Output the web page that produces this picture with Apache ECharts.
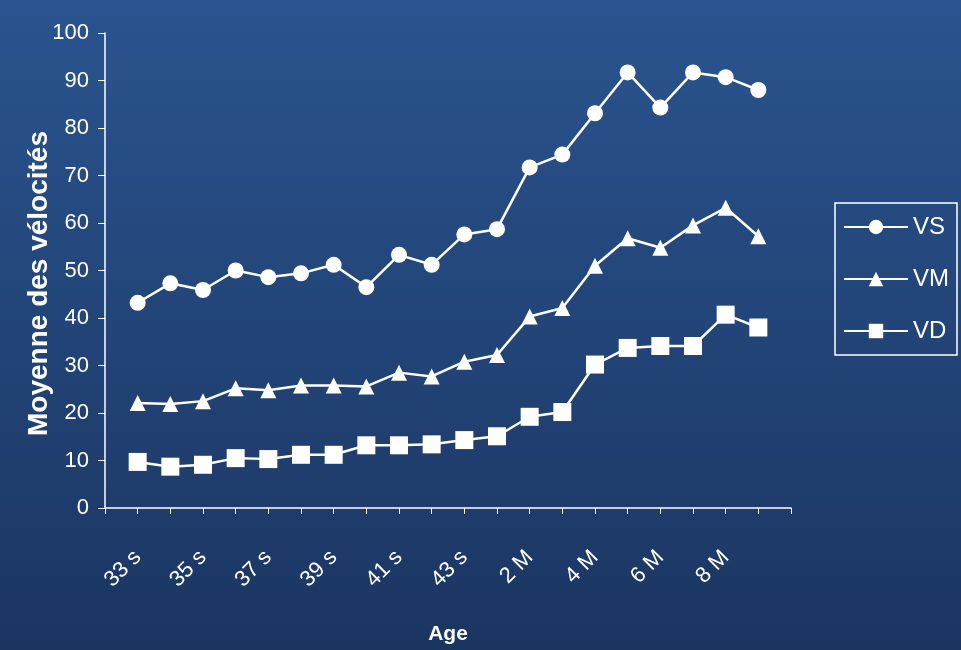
<!DOCTYPE html>
<html>
<head>
<meta charset="utf-8">
<script src="https://cdn.jsdelivr.net/npm/echarts@6/dist/echarts.min.js"></script>
<style>
  html, body { margin: 0; padding: 0; }
  #chart { width: 961px; height: 650px; }
</style>
</head>
<body>
<div id="chart"></div>
<script>
// ages: 33 s .. 44 s, then 2 M .. 9 M
const ages = ['33 s', '34 s', '35 s', '36 s', '37 s', '38 s', '39 s', '40 s', '41 s', '42 s', '43 s', '44 s',
  '2 M', '3 M', '4 M', '5 M', '6 M', '7 M', '8 M', '9 M'];
const vs = [43.2, 47.3, 45.9, 50.0, 48.6, 49.4, 51.2, 46.5, 53.3, 51.2, 57.6, 58.7,
  71.7, 74.4, 83.1, 91.7, 84.3, 91.7, 90.7, 88.0];
const vm = [22.1, 21.9, 22.5, 25.2, 24.8, 25.8, 25.8, 25.6, 28.5, 27.7, 30.8, 32.2,
  40.3, 42.1, 51.0, 56.8, 54.8, 59.5, 63.2, 57.2];
const vd = [9.7, 8.7, 9.1, 10.5, 10.3, 11.2, 11.2, 13.2, 13.2, 13.4, 14.3, 15.1,
  19.2, 20.2, 30.2, 33.7, 34.1, 34.1, 40.7, 38.0];

const chart = echarts.init(document.getElementById('chart'));

const pts = arr => arr.map((v, i) => [i, v]);
const white = '#ffffff';
const font = 'Liberation Sans';

function line(name, data, symbol, size) {
  return {
    name: name,
    type: 'line',
    data: pts(data),
    symbol: symbol,
    symbolSize: size,
    lineStyle: { color: white, width: 2.5 },
    itemStyle: { color: white },
    animation: false
  };
}

chart.setOption({
  backgroundColor: {
    type: 'linear', x: 0, y: 0, x2: 0, y2: 1,
    colorStops: [
      { offset: 0, color: '#2a548f' },
      { offset: 1, color: '#1b3561' }
    ]
  },
  grid: { left: 105, right: 170, top: 33, bottom: 133 },
  legend: {
    orient: 'vertical',
    left: 835,
    top: 203,
    padding: [12, 8, 12, 8],
    itemGap: 28,
    itemWidth: 64,
    itemHeight: 18,
    borderColor: white,
    borderWidth: 1.5,
    textStyle: { color: white, fontSize: 24, fontFamily: font },
    data: ['VS', 'VM', 'VD']
  },
  xAxis: {
    type: 'value',
    min: -1,
    max: 20,
    interval: 1,
    name: 'Age',
    nameLocation: 'middle',
    nameGap: 116,
    nameMoveOverlap: false,
    nameTextStyle: { color: white, fontSize: 21, fontWeight: 'bold', fontFamily: font },
    axisLine: { lineStyle: { color: white, width: 1.5 } },
    axisTick: { show: true, length: 6, lineStyle: { color: white } },
    splitLine: { show: false },
    axisLabel: {
      color: white,
      fontSize: 22,
      fontFamily: font,
      rotate: 45,
      margin: 46,
      showMinLabel: true,
      showMaxLabel: true,
      formatter: v => (v >= 0 && v < ages.length && v % 2 === 0) ? ages[v] : ''
    }
  },
  yAxis: {
    type: 'value',
    min: 0,
    max: 100,
    interval: 10,
    name: 'Moyenne des vélocités',
    nameLocation: 'middle',
    nameGap: 52,
    nameMoveOverlap: false,
    nameTextStyle: { color: white, fontSize: 28, fontWeight: 'bold', fontFamily: font, padding: [0, 26, 0, 0] },
    axisLine: { show: true, onZero: false, lineStyle: { color: white, width: 1.5 } },
    axisTick: { show: true, length: 7, lineStyle: { color: white } },
    splitLine: { show: false },
    axisLabel: { color: white, fontSize: 22, fontFamily: font, margin: 16 }
  },
  series: [
    line('VS', vs, 'circle', 16),
    line('VM', vm, 'triangle', 16),
    line('VD', vd, 'rect', 18)
  ]
});
</script>
</body>
</html>
